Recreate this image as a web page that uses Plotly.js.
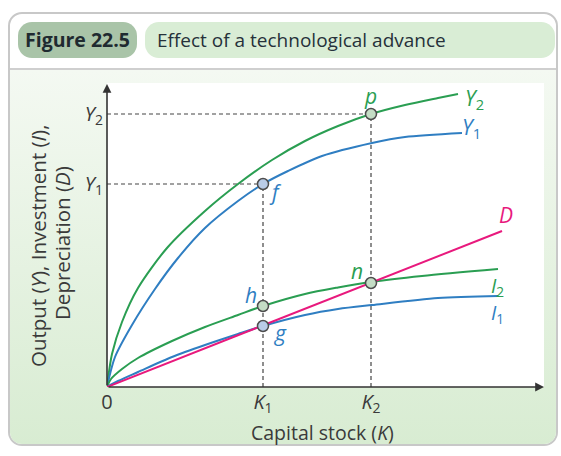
<!DOCTYPE html>
<html>
<head>
<meta charset="utf-8">
<script src="https://cdn.plot.ly/plotly-3.0.1.min.js"></script>
<style>
  html, body { margin:0; padding:0; background:#fff; }
  #wrap { position:relative; width:561px; height:456px; overflow:hidden; background:#fff; }
  #frame { position:absolute; left:8px; top:12px; width:550px; height:434px; border:2px solid #c8c8c8; border-radius:14px; background:#fff; overflow:hidden; box-sizing:border-box; }
  #bodybg { position:absolute; left:0; top:54px; right:0; bottom:0; border-top:2px solid #cfcfcf; background:linear-gradient(#f4f9f2, #d8ecd2); }
  .pill { position:absolute; top:22px; height:36px; border-radius:14px; }
  #pill1 { left:18px; width:119px; background:#a9c4a8; }
  #pill2 { left:145px; width:410px; background:#d9edd5; }
  #chart { position:absolute; left:0; top:0; width:561px; height:456px; }
</style>
</head>
<body>
<div id="wrap">
  <div id="frame"><div id="bodybg"></div></div>
  <div class="pill" id="pill1"></div>
  <div class="pill" id="pill2"></div>
  <div id="chart"></div>
</div>
<script>
// ---- data ----
const K_TICKS = [156, 264];                 // K1, K2
const K_LABELS = ['<i>K</i><sub>1</sub>', '<i>K</i><sub>2</sub>'];
const Y_TICKS = [203, 273];                 // Y1, Y2
const Y_LABELS = ['<i>Y</i><sub>1</sub>', '<i>Y</i><sub>2</sub>'];

const Y2_K = [0, 5, 15, 31, 60, 98, 131, 165, 198, 231, 264, 298, 331, 351];
const Y2_V = [0, 33, 65, 99, 139, 176, 203, 227, 246, 261, 273, 282, 289, 293];

const Y1_K = [0, 8, 25, 48, 71, 98, 131, 156, 181, 215, 265, 298, 355];
const Y1_V = [0, 30, 62, 98, 129, 159, 186, 203, 216, 231, 244, 250, 254];

const I2_K = [0, 4, 15, 31, 65, 98, 131, 156, 198, 231, 264, 315, 391];
const I2_V = [0, 8, 18, 29, 46, 60, 72, 81, 93, 99.5, 105, 111, 118];

const I1_K = [0, 11, 31, 65, 98, 131, 156, 198, 231, 265, 331, 391];
const I1_V = [0, 6, 15, 30, 42, 53, 61, 72, 78, 82, 89, 91];

const D_K = [0, 395];
const D_V = [0, 156];

// points f, p, h, g, n
const PT_NAMES = ['f', 'p', 'h', 'g', 'n'];
const PT_K = [156, 264, 156, 156, 264];
const PT_V = [203, 273, 81, 61, 104];

const GREEN = '#2a9e52', BLUE = '#2f7ec2', PINK = '#e8197d';
const FONT = 'Open Sans, Noto Sans, sans-serif';
const TFONT = 'Open Sans, Noto Sans, sans-serif';
const HFONT = 'Open Sans, Noto Sans, sans-serif';
const TCOL = '#3a3a3a';

// pixel -> paper helpers for text placed outside the plot area
const PL = 107, PT = 83, PW = 437, PH = 304;
const px = v => (v - PL) / PW;
const py = v => (PT + PH - v) / PH;

function curve(x, y, c) {
  return { x: x, y: y, type: 'scatter', mode: 'lines', line: { color: c, width: 2, shape: 'spline', smoothing: 0.8 }, hoverinfo: 'skip' };
}
const traces = [
  curve(Y2_K, Y2_V, GREEN),
  curve(Y1_K, Y1_V, BLUE),
  curve(I2_K, I2_V, GREEN),
  curve(I1_K, I1_V, BLUE),
  { x: D_K, y: D_V, type: 'scatter', mode: 'lines', line: { color: PINK, width: 2 }, hoverinfo: 'skip' },
  { x: PT_K, y: PT_V, type: 'scatter', mode: 'markers', hoverinfo: 'skip', cliponaxis: false,
    marker: { size: 11, color: ['#b9cce7', '#c4ddc5', '#c4ddc5', '#b9cce7', '#c4ddc5'], line: { color: '#4d4d4d', width: 1.5 } } }
];

const dash = { color: '#444', width: 1.2, dash: '4px,3px' };
const shapes = [
  { type: 'line', xref: 'x', yref: 'y', x0: 0, x1: K_TICKS[1], y0: Y_TICKS[1], y1: Y_TICKS[1], line: dash, layer: 'below' },
  { type: 'line', xref: 'x', yref: 'y', x0: 0, x1: K_TICKS[0], y0: Y_TICKS[0], y1: Y_TICKS[0], line: dash, layer: 'below' },
  { type: 'line', xref: 'x', yref: 'y', x0: K_TICKS[0], x1: K_TICKS[0], y0: 0, y1: Y_TICKS[0], line: dash, layer: 'below' },
  { type: 'line', xref: 'x', yref: 'y', x0: K_TICKS[1], x1: K_TICKS[1], y0: 0, y1: Y_TICKS[1], line: dash, layer: 'below' }
];

function lab(text, x, y, color, size, extra) {
  return Object.assign({ text: text, x: px(x), y: py(y), xref: 'paper', yref: 'paper', showarrow: false,
    xanchor: 'center', yanchor: 'middle',
    font: { family: FONT, size: size || 21, color: color } }, extra || {});
}
const annotations = [
  // axis arrows
  { x: 437, y: 0, ax: 0, ay: 0, axref: 'x', ayref: 'y', xref: 'x', yref: 'y', text: '', showarrow: true, arrowhead: 2, arrowsize: 1.1, arrowwidth: 1.6, arrowcolor: '#333' },
  { x: 0, y: 303, ax: 0, ay: 0, axref: 'x', ayref: 'y', xref: 'x', yref: 'y', text: '', showarrow: true, arrowhead: 2, arrowsize: 1.1, arrowwidth: 1.6, arrowcolor: '#333' },
  // curve & point labels (pixel positions)
  lab('<i>p</i>', 370, 96, GREEN),
  lab('<i>Y</i><sub>2</sub>', 474, 99, GREEN),
  lab('<i>Y</i><sub>1</sub>', 471, 128, BLUE),
  lab('<i>f</i>', 275, 192, BLUE),
  lab('<i>D</i>', 506, 215, PINK),
  lab('<i>n</i>', 357, 271, GREEN),
  lab('<i>h</i>', 251, 295, BLUE),
  lab('<i>g</i>', 280, 333, BLUE),
  lab('<i>I</i><sub>2</sub>', 497, 286, GREEN, 19.5),
  lab('<i>I</i><sub>1</sub>', 497, 313, BLUE, 19.5),
  // axis titles
  lab('Capital stock (<i>K</i>)', 322, 432, TCOL, 19.5, { font: { family: TFONT, size: 19.5, color: TCOL } }),
  lab('Output (<i>Y</i>), Investment (<i>I</i>),', 38, 246, TCOL, 20, { textangle: -90, font: { family: TFONT, size: 20.5, color: TCOL } }),
  lab('Depreciation (<i>D</i>)', 62, 243, TCOL, 20, { textangle: -90, font: { family: TFONT, size: 20.5, color: TCOL } }),
  // header
  lab('<b>Figure 22.5</b>', 77, 40, '#1f2a30', 19, { font: { family: HFONT, size: 19.5, color: '#1f2a30' } }),
  lab('Effect of a technological advance', 155, 40, '#26313a', 19, { xanchor: 'left', font: { family: HFONT, size: 19, color: '#26313a' } })
];

const layout = {
  width: 561, height: 456,
  margin: { l: PL, r: 561 - PL - PW, t: PT, b: 456 - PT - PH, pad: 0 },
  paper_bgcolor: 'rgba(0,0,0,0)', plot_bgcolor: '#ffffff',
  showlegend: false,
  xaxis: { range: [0, PW], showgrid: false, zeroline: false, showline: false,
    tickvals: [0].concat(K_TICKS), ticktext: ['0'].concat(K_LABELS), ticks: '',
    tickfont: { family: FONT, size: 20, color: TCOL }, ticklabelstandoff: 1, fixedrange: true },
  yaxis: { range: [0, PH], showgrid: false, zeroline: false, showline: false,
    tickvals: Y_TICKS, ticktext: Y_LABELS, ticks: '',
    tickfont: { family: FONT, size: 20, color: TCOL }, ticklabelstandoff: 3, fixedrange: true },
  shapes: shapes,
  annotations: annotations
};

Plotly.newPlot('chart', traces, layout, { staticPlot: true, displayModeBar: false });
</script>
</body>
</html>
